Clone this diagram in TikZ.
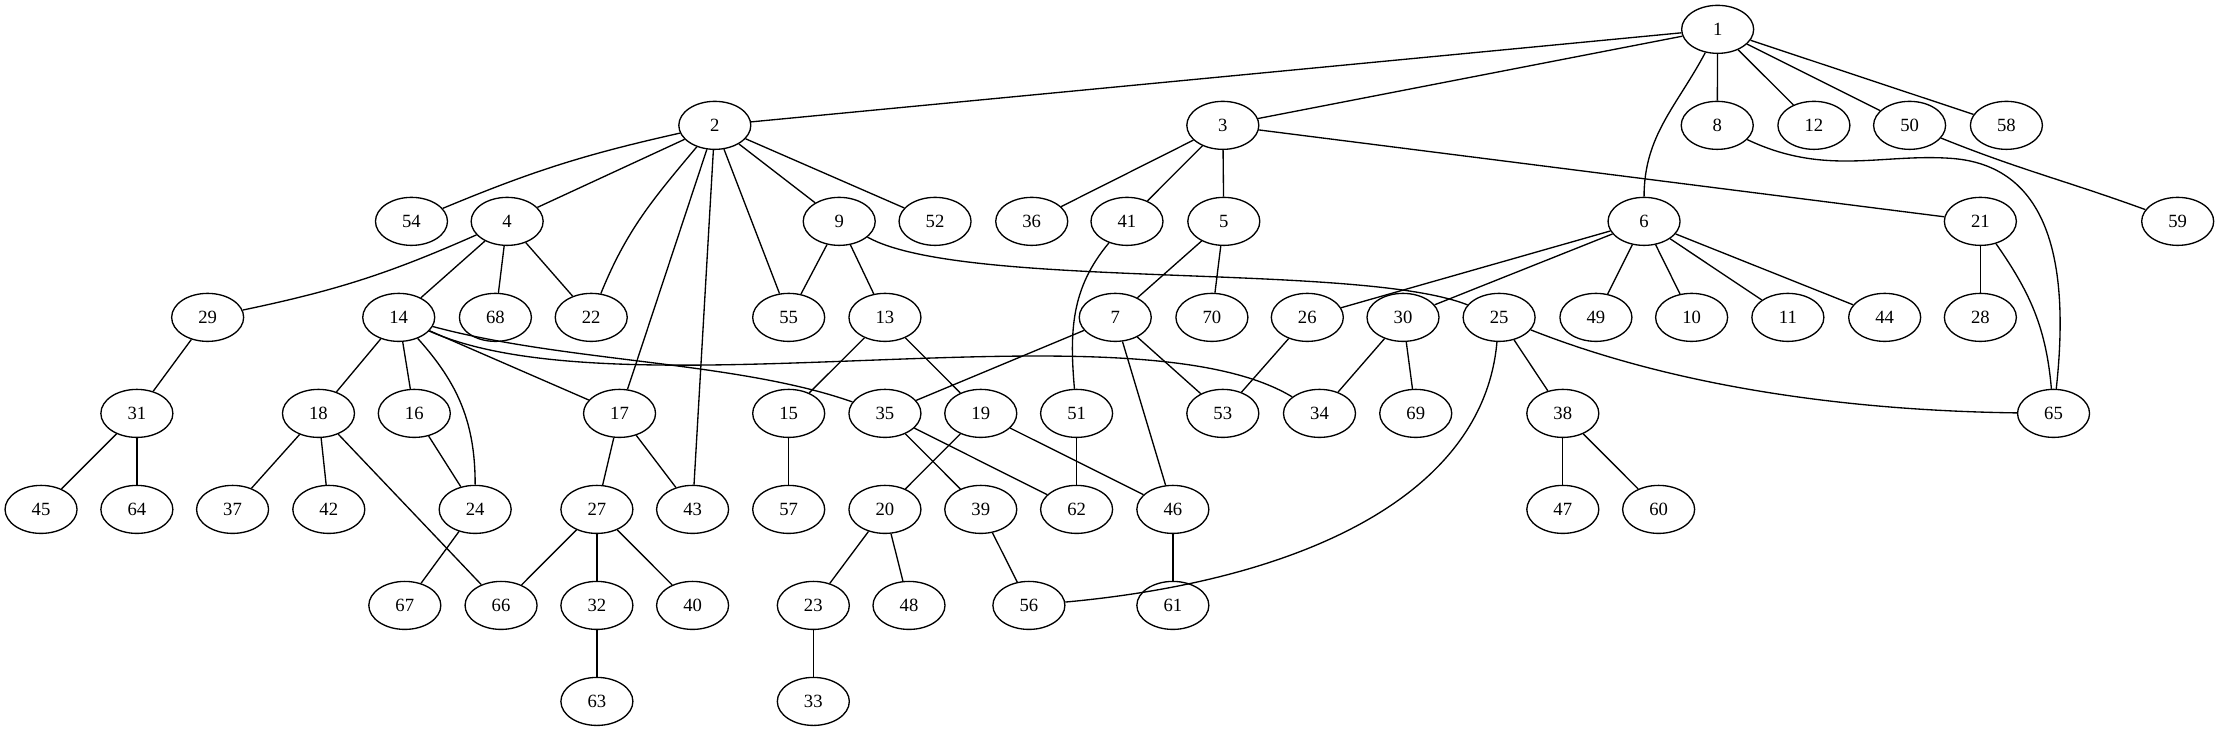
\documentclass[tikz,border=0pt]{standalone}
\usepackage{fontspec}
\setmainfont{Liberation Serif}
\usetikzlibrary{shapes.geometric}
\tikzset{
  gv/.style={draw, ellipse, line width=1pt, minimum width=54pt, minimum height=36pt, inner sep=0pt, font=\fontsize{14}{16}\selectfont},
  gvedge/.style={line width=1pt}
}
\begin{document}
\begin{tikzpicture}[x=1.0614pt, y=1.0614pt]
\useasboundingbox (0,0) rectangle (1567.7,-516.5);
\foreach \n/\x/\r in {
 1/1213.5/0,
 2/505/1, 3/863.9/1, 8/1213.2/1, 12/1281.5/1, 50/1349.1/1, 58/1417.5/1,
 54/290.7/2, 4/358.3/2, 9/592.9/2, 52/660.6/2, 36/728.9/2, 41/796.2/2, 5/864.6/2, 6/1161.5/2, 21/1399.1/2, 59/1538.5/2,
 29/146.7/3, 14/281.7/3, 68/350/3, 22/417.7/3, 55/557.2/3, 13/625.2/3, 7/787.9/3, 70/856.2/3, 26/923.6/3, 30/991.2/3, 25/1059.1/3, 49/1127.5/3, 10/1195.1/3, 11/1263.1/3, 44/1331.5/3, 28/1399.1/3,
 31/96.7/4, 18/225/4, 16/292.7/4, 17/437.7/4, 15/557.2/4, 35/625.2/4, 19/692.9/4, 51/760.6/4, 53/863.9/4, 34/932.2/4, 69/1000.2/4, 38/1104.1/4, 65/1450.8/4,
 45/29/5, 64/96.7/5, 37/164.3/5, 42/232.3/5, 24/335.7/5, 27/421.7/5, 43/489.3/5, 57/557.2/5, 20/625.2/5, 39/692.9/5, 62/760.6/5, 46/828.6/5, 47/1104.1/5, 60/1171.8/5,
 67/286/6, 66/354/6, 32/421.7/6, 40/489.3/6, 23/574.6/6, 48/642.2/6, 56/726.9/6, 61/828.6/6,
 63/421.7/7, 33/574.6/7}
 \node[gv] (n\n) at (\x, {-(20.73+67.83*\r)}) {\n};
\foreach \a/\b in {
 1/2, 1/3, 1/8, 1/12, 1/50, 1/58,
 2/4, 2/17, 2/43, 2/55, 2/9, 2/52,
 3/36, 3/41, 3/5, 3/21,
 4/14, 4/68, 4/22,
 29/31, 31/45, 31/64,
 14/18, 14/16, 14/17,
 18/37, 18/42, 18/66,
 16/24, 17/27, 17/43, 24/67,
 27/66, 27/32, 27/40, 32/63,
 9/55, 9/13, 13/15, 13/19, 15/57,
 5/7, 5/70, 7/35, 7/53, 7/46,
 26/53, 30/34, 30/69,
 35/39, 35/62, 19/20, 19/46, 51/62,
 20/23, 20/48, 23/33, 39/56, 46/61,
 6/26, 6/30, 6/49, 6/10, 6/11, 6/44,
 21/28, 25/38, 38/47, 38/60}
 \draw[gvedge] (n\a) -- (n\b);
\draw[gvedge] (n2) to[bend right=5] (n54);
\draw[gvedge] (n1) to[out=-118, in=90] (n6);
\draw[gvedge] (n2) to[out=-130, in=68] (n22);
\draw[gvedge] (n4) to[bend left=6] (n29);
\draw[gvedge] (n9) .. controls (680,-205) and (960,-185) .. (n25);
\draw[gvedge] (n14) to[out=-48, in=90] (n24);
\draw[gvedge] (n14) .. controls (400,-256) and (520,-255) .. (n35);
\draw[gvedge] (n14) .. controls (440,-295) and (800,-212) .. (n34);
\draw[gvedge] (n41) to[out=-130, in=95] (n51);
\draw[gvedge] (n25) .. controls (1048,-350) and (920,-410) .. (n56);
\draw[gvedge] (n25) .. controls (1180,-272) and (1300,-290) .. (n65);
\draw[gvedge] (n21) to[out=-55, in=95] (n65);
\draw[gvedge] (n8) .. controls (1290,-125) and (1330,-108) .. (1380,-112) .. controls (1450,-118) and (1462,-190) .. (n65);
\draw[gvedge] (n50) to[out=-22, in=160] (n59);
\end{tikzpicture}
\end{document}
